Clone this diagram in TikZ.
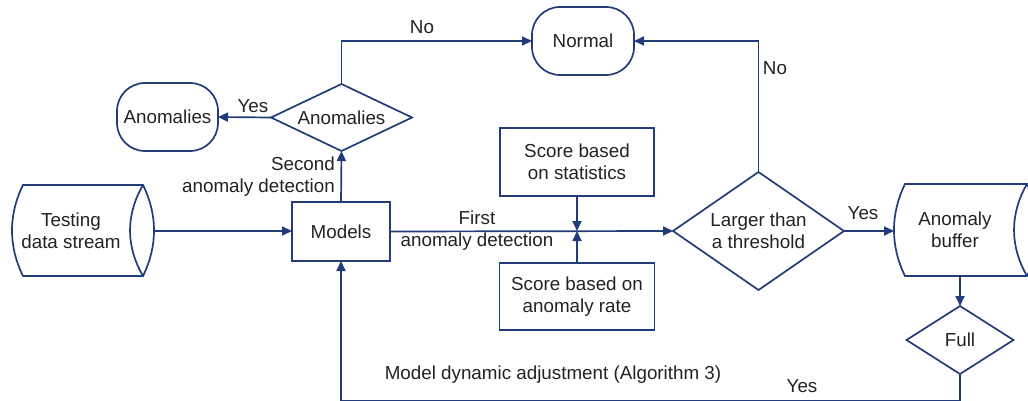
\documentclass[tikz,border=0pt]{standalone}
\usepackage{fontspec}
\setmainfont{Liberation Sans}
\usetikzlibrary{shapes.geometric,arrows.meta,calc}
\definecolor{lnc}{HTML}{213C78}
\definecolor{txc}{HTML}{222222}
\newcommand\figfont{\fontsize{18.8}{22}\selectfont}
\newcommand\drumshape[4]{%
  \draw[lineb] (#1,#3) -- (#2,#3) .. controls +(14.7,30) and +(14.7,-30) .. (#2,#4)
    -- (#1,#4) .. controls +(-14.7,-30) and +(-14.7,30) .. (#1,#3) -- cycle;
  \draw[lineb] (#2,#3) .. controls +(-17.3,30) and +(-17.3,-30) .. (#2,#4);}
\begin{document}
\begin{tikzpicture}[x=1pt,y=-1pt,
  lineb/.style={draw=lnc, line width=1.7pt},
  arr/.style={lineb, -{Triangle[length=10pt,width=9pt]}},
  txt/.style={text=txc, font=\figfont, align=center, inner sep=0pt},
  box/.style={lineb, rectangle, inner sep=0pt, outer sep=0pt, align=center, text=txc, font=\figfont},
  term/.style={box, rounded corners=28pt},
  decis/.style={lineb, diamond, inner sep=0pt, outer sep=0pt, align=center, text=txc, font=\figfont},
  helper/.style={rectangle, inner sep=0pt, outer sep=0pt}
]
\useasboundingbox (0,0) rectangle (1028,401);
\clip (0,0) rectangle (1028,401);

% drum shaped stores
\drumshape{23}{143}{185}{276}
\node[helper, minimum width=142pt, minimum height=91pt] (ts) at (83,231) {};
\node[txt] (tst) at (71,231) {Testing\\data stream};

\drumshape{905}{1027}{184}{276}
\node[helper, minimum width=145pt, minimum height=92pt] (buf) at (966.5,230) {};
\node[txt] (buft) at (955,230) {Anomaly\\buffer};

% boxes
\node[box, minimum width=98pt, minimum height=59pt] (models) at (341,231.5) {Models};
\node[box, minimum width=154pt, minimum height=68pt] (stats) at (577,162) {Score based\\on statistics};
\node[box, minimum width=155pt, minimum height=67pt] (rate) at (577,296.5) {Score based on\\anomaly rate};

% terminals
\node[term, minimum width=102pt, minimum height=68pt] (normal) at (583,41) {Normal};
\node[term, minimum width=101pt, minimum height=68pt] (anomt) at (167.5,117) {Anomalies};

% decisions
\node[decis, minimum width=141pt, minimum height=67pt, aspect=2.1] (anom) at (341.5,117.5) {Anomalies};
\node[decis, minimum width=171pt, minimum height=118pt, aspect=1.45] (larger) at (758.5,231) {Larger than\\a threshold};
\node[decis, minimum width=107pt, minimum height=68pt, aspect=1.57] (full) at (960,340) {Full};

\coordinate (junc) at (577,231);
\coordinate (bl) at (960,400.5);
\coordinate (br) at (341,400.5);

% connectors
\draw[arr] (ts.east) -- (ts.east -| models.west);
\draw[arr] (models.east) -- (larger.west);
\node[txt] (firstlbl) at (477,231) {First\\anomaly detection};
\draw[arr] (stats.south) -- (junc);
\draw[arr] (rate.north) -- (junc);
\draw[arr] (models.north) -- (anom.south);
\node[txt, anchor=east, align=right] (seclbl) at (335,176.5) {Second\\anomaly detection};
\draw[arr] (anom.west) -- (anomt.east);
\node[txt] (yes1) at (253,106) {Yes};
\draw[arr] (anom.north) |- (normal.west);
\node[txt] (no1) at (422,27) {No};
\draw[arr] (larger.north) |- (normal.east);
\node[txt] (no2) at (775,68) {No};
\draw[arr] (larger.east) -- (larger.east -| buf.west);
\node[txt] (yes2) at (863,213) {Yes};
\draw[arr] (full.north |- buf.south) -- (full.north);
\draw[arr] (full.south) -- (bl) -- (br) -- (models.south);
\node[txt] (adj) at (553,375) {Model dynamic adjustment (Algorithm 3)};
\node[txt] (yes3) at (802,386) {Yes};
\end{tikzpicture}
\end{document}
